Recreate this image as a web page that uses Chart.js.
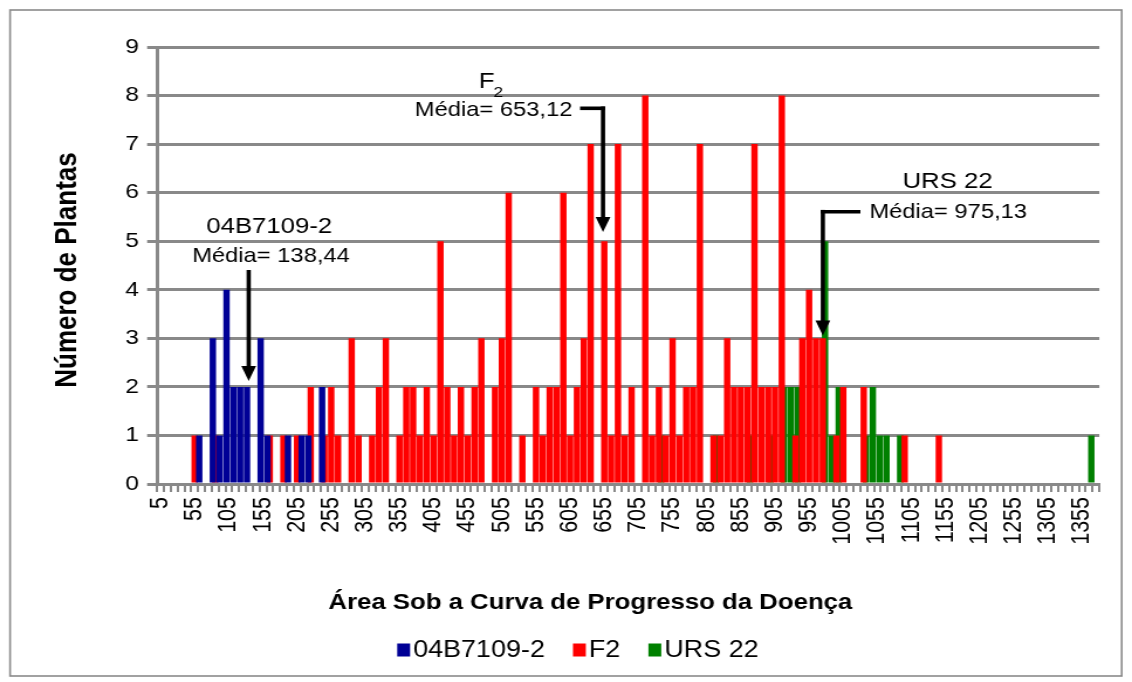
<!DOCTYPE html>
<html>
<head>
<meta charset="utf-8">
<script src="https://cdn.jsdelivr.net/npm/chart.js@4.4.0/dist/chart.umd.min.js"></script>
<style>
  html, body { margin: 0; padding: 0; background: #ffffff; }
  #c { display: block; width: 1132px; height: 682px; }
</style>
</head>
<body>
<canvas id="c" width="967" height="682" style="width:1132px;height:682px"></canvas>
<script>
// Histogram bins (lower class value of each 10-unit class of AUDPC)
const categories = [
  5, 15, 25, 35, 45, 55, 65, 75, 85, 95,
  105, 115, 125, 135, 145, 155, 165, 175, 185, 195,
  205, 215, 225, 235, 245, 255, 265, 275, 285, 295,
  305, 315, 325, 335, 345, 355, 365, 375, 385, 395,
  405, 415, 425, 435, 445, 455, 465, 475, 485, 495,
  505, 515, 525, 535, 545, 555, 565, 575, 585, 595,
  605, 615, 625, 635, 645, 655, 665, 675, 685, 695,
  705, 715, 725, 735, 745, 755, 765, 775, 785, 795,
  805, 815, 825, 835, 845, 855, 865, 875, 885, 895,
  905, 915, 925, 935, 945, 955, 965, 975, 985, 995,
  1005, 1015, 1025, 1035, 1045, 1055, 1065, 1075, 1085, 1095,
  1105, 1115, 1125, 1135, 1145, 1155, 1165, 1175, 1185, 1195,
  1205, 1215, 1225, 1235, 1245, 1255, 1265, 1275, 1285, 1295,
  1305, 1315, 1325, 1335, 1345, 1355, 1365, 1375
];

// Labelled classes on the x axis
const xTickLabels = [5, 55, 105, 155, 205, 255, 305, 355, 405, 455, 505, 555, 605, 655,
  705, 755, 805, 855, 905, 955, 1005, 1055, 1105, 1155, 1205, 1255, 1305, 1355];

// Parent 04B7109-2: occupied classes and number of plants
const binsP1 = [65, 85, 95, 105, 115, 125, 135, 155, 165, 195, 215, 225, 245];
const countsP1 = [1, 3, 1, 4, 2, 2, 2, 3, 1, 1, 1, 1, 2];

// F2 population
const binsF2 = [55, 85, 165, 185, 205, 225, 245, 255, 265, 285, 295, 315, 325, 335,
  355, 365, 375, 385, 395, 405, 415, 425, 435, 445, 455, 465, 475, 495, 505, 515,
  535, 555, 565, 575, 585, 595, 605, 615, 625, 635, 655, 665, 675, 685, 695, 715,
  725, 735, 745, 755, 765, 775, 785, 795, 815, 825, 835, 845, 855, 865, 875, 885,
  895, 905, 915, 935, 945, 955, 965, 975, 995, 1005, 1035, 1095, 1145];
const countsF2 = [1, 1, 1, 1, 1, 2, 1, 2, 1, 3, 1, 1, 2, 3,
  1, 2, 2, 1, 2, 1, 5, 2, 1, 2, 1, 2, 3, 2, 3, 6,
  1, 2, 1, 2, 2, 6, 1, 2, 3, 7, 5, 1, 7, 1, 2, 8,
  1, 2, 1, 3, 1, 2, 2, 7, 1, 1, 3, 2, 2, 2, 7, 2,
  2, 2, 8, 1, 3, 4, 3, 3, 1, 2, 2, 1, 1];

// Parent URS 22
const binsP2 = [735, 815, 865, 895, 915, 925, 935, 975, 985, 995, 1035, 1045, 1055, 1065, 1085, 1365];
const countsP2 = [1, 1, 1, 1, 2, 2, 2, 5, 1, 2, 1, 2, 1, 1, 1, 1];

// Population means
const meanP1 = 138.44;
const meanF2 = 653.12;
const meanP2 = 975.13;

const seriesNames = ['04B7109-2', 'F2', 'URS 22'];
const seriesColors = ['#000096', '#ff0000', '#008000'];

const xTitle = 'Área Sob a Curva de Progresso da Doença';
const yTitle = 'Número de Plantas';

function toSeries(bins, counts) {
  return categories.map(c => {
    const k = bins.indexOf(c);
    return k >= 0 ? counts[k] : 0;
  });
}

const FONT = "'Liberation Sans', Arial, Helvetica, sans-serif";
const GRID = '#898989';
Chart.defaults.font.family = FONT;
Chart.defaults.color = '#000000';

// Frame, axis titles and legend drawn around the plot
const framePlugin = {
  id: 'frame',
  beforeDraw(chart) {
    const ctx = chart.ctx;
    ctx.save();
    ctx.fillStyle = '#ffffff';
    ctx.fillRect(0, 0, chart.width, chart.height);
    ctx.strokeStyle = '#8a8a8a';
    ctx.lineWidth = 1.6;
    ctx.strokeRect(8.6, 10, 949.6, 666);
    ctx.restore();
  },
  afterDraw(chart) {
    const ctx = chart.ctx;
    ctx.save();
    ctx.fillStyle = '#000000';
    ctx.textBaseline = 'middle';
    ctx.textAlign = 'center';
    ctx.font = 'bold 22px ' + FONT;
    ctx.fillText(xTitle, 504.3, 603);

    ctx.translate(58, 270);
    ctx.rotate(-Math.PI / 2);
    ctx.font = 'bold 26px ' + FONT;
    ctx.fillText(yTitle, 0, 0);
    ctx.restore();

    // legend
    ctx.save();
    ctx.font = '23px ' + FONT;
    ctx.textBaseline = 'middle';
    ctx.textAlign = 'left';
    const boxW = 11, boxH = 13, cy = 650, gap = 2.6, itemGap = 24;
    let x = 339.3;
    chart.data.datasets.forEach(ds => {
      ctx.fillStyle = ds.backgroundColor;
      ctx.fillRect(x, cy - boxH / 2, boxW, boxH);
      ctx.fillStyle = '#000000';
      ctx.fillText(ds.label, x + boxW + gap, cy + 1);
      x += boxW + gap + ctx.measureText(ds.label).width + itemGap;
    });
    ctx.restore();
  }
};

// Mean markers: caption, value and elbow arrow pointing at the mean class
const meanPlugin = {
  id: 'means',
  afterDatasetsDraw(chart) {
    const ctx = chart.ctx;
    const xs = chart.scales.x;
    const ys = chart.scales.y;
    const px = m => xs.getPixelForValue((m - categories[0]) / (categories[1] - categories[0]));

    function arrowDown(x, yTop, yTip) {
      const headH = 15, headW = 6.3;
      ctx.beginPath();
      ctx.moveTo(x, yTop);
      ctx.lineTo(x, yTip - headH + 1);
      ctx.stroke();
      ctx.beginPath();
      ctx.moveTo(x - headW, yTip - headH);
      ctx.lineTo(x + headW, yTip - headH);
      ctx.lineTo(x, yTip);
      ctx.closePath();
      ctx.fill();
    }

    ctx.save();
    ctx.fillStyle = '#000000';
    ctx.strokeStyle = '#000000';
    ctx.lineWidth = 3.6;
    ctx.lineCap = 'butt';
    ctx.textBaseline = 'alphabetic';

    // 04B7109-2
    const x1 = px(meanP1) - 2.5;
    ctx.textAlign = 'center';
    ctx.font = '22px ' + FONT;
    ctx.fillText('04B7109-2', 230, 233);
    ctx.font = '20.3px ' + FONT;
    ctx.fillText('Média= 138,44', 231.5, 262);
    arrowDown(x1, 270, ys.getPixelForValue(2.12));

    // F2
    const x2 = px(meanF2);
    ctx.textAlign = 'left';
    ctx.font = '22px ' + FONT;
    ctx.fillText('F', 409, 88);
    ctx.font = '15px ' + FONT;
    ctx.fillText('2', 421.5, 97);
    ctx.font = '20.3px ' + FONT;
    ctx.textAlign = 'right';
    ctx.fillText('Média= 653,12', 489, 116);
    ctx.beginPath();
    ctx.moveTo(495.5, 108.3);
    ctx.lineTo(x2 + 1.8, 108.3);
    ctx.stroke();
    arrowDown(x2, 106.5, ys.getPixelForValue(5.19));

    // URS 22
    const x3 = px(meanP2);
    ctx.textAlign = 'center';
    ctx.font = '22px ' + FONT;
    ctx.fillText('URS 22', 809.5, 188);
    ctx.font = '20.3px ' + FONT;
    ctx.fillText('Média= 975,13', 810, 218);
    ctx.beginPath();
    ctx.moveTo(735, 211.7);
    ctx.lineTo(x3 - 1.8, 211.7);
    ctx.stroke();
    arrowDown(x3, 209.9, ys.getPixelForValue(3.06));

    ctx.restore();
  }
};

const chart = new Chart(document.getElementById('c'), {
  type: 'bar',
  data: {
    labels: categories.map(String),
    datasets: [
      { label: seriesNames[0], data: toSeries(binsP1, countsP1), backgroundColor: seriesColors[0], borderWidth: 0 },
      { label: seriesNames[1], data: toSeries(binsF2, countsF2), backgroundColor: seriesColors[1], borderWidth: 0 },
      { label: seriesNames[2], data: toSeries(binsP2, countsP2), backgroundColor: seriesColors[2], borderWidth: 0 }
    ]
  },
  options: {
    responsive: false,
    animation: false,
    devicePixelRatio: 1,
    layout: { padding: { left: 0, right: 20.8, top: 47, bottom: 48 } },
    datasets: { bar: { categoryPercentage: 1.0, barPercentage: 2.8 } },
    plugins: {
      legend: { display: false },
      tooltip: { enabled: false }
    },
    scales: {
      x: {
        type: 'category',
        offset: true,
        grid: {
          offset: true,
          drawOnChartArea: false,
          drawTicks: true,
          tickLength: 8,
          color: GRID,
          lineWidth: 2
        },
        border: { display: true, color: GRID, width: 3 },
        ticks: {
          autoSkip: false,
          minRotation: 90,
          maxRotation: 90,
          padding: 5,
          color: '#000000',
          font: { size: 21.5, family: FONT },
          callback(value, index) {
            const v = categories[index];
            return xTickLabels.includes(v) ? String(v) : '';
          }
        },
        afterFit(scale) { scale.height = 150; }
      },
      y: {
        min: 0,
        max: 9,
        ticks: {
          stepSize: 1,
          padding: 7,
          color: '#000000',
          font: { size: 21, family: FONT }
        },
        grid: {
          color: GRID,
          lineWidth: 3,
          tickLength: 8.5,
          drawTicks: true
        },
        border: { display: true, color: GRID, width: 3 },
        afterFit(scale) { scale.width = 134.2; }
      }
    }
  },
  plugins: [framePlugin, meanPlugin]
});
</script>
</body>
</html>
